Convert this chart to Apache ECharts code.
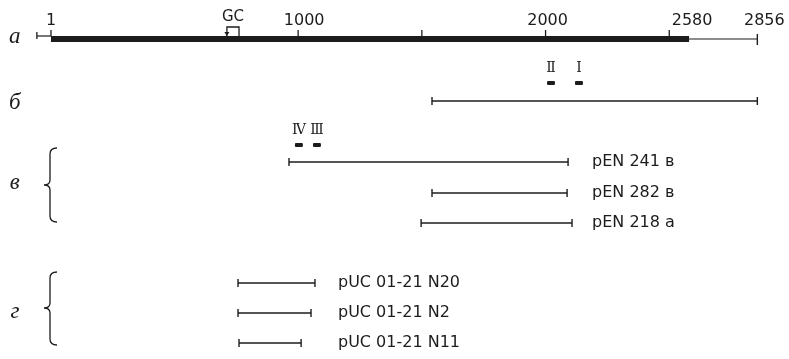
<!DOCTYPE html>
<html>
<head>
<meta charset="utf-8">
<script src="https://cdn.jsdelivr.net/npm/echarts@6/dist/echarts.min.js"></script>
<style>
html, body { margin: 0; background: #fff; }
#map { width: 789px; height: 359px; }
</style>
</head>
<body>
<div id="map"></div>
<script>
// genome map, positions in bp
var mapLeft = -56;
var mapFirst = 1;
var mapCodingEnd = 2580;
var mapEnd = 2856;
var mapTicks = [1, 1000, 1500, 2000, 2500];
var tickLabels = ['1', '1000', '2000', '2580', '2856'];
var tickLabelAt = [1, 1000, 2000, 2580, 2856];
var gcRegion = [712, 761];

// cloned fragments
var fragNames = ['', 'pEN 241 в', 'pEN 282 в', 'pEN 218 а', 'pUC 01-21 N20', 'pUC 01-21 N2', 'pUC 01-21 N11'];
var fragStart = [1541, 963, 1541, 1497, 757, 757, 761];
var fragEnd = [2856, 2091, 2087, 2107, 1068, 1052, 1012];

// short marked regions
var markNames = ['Ⅱ', 'Ⅰ', 'Ⅳ', 'Ⅲ'];
var markStart = [2006, 2119, 987, 1060];
var markEnd = [2038, 2151, 1019, 1092];

var rowNames = ['а', 'б', 'в', 'г'];

// layout (y in px rows, x in bp)
var mapY = 39;
var fragY = [101, 162, 193, 223, 283, 313, 343];
var fragLabelX = [null, 2188, 2188, 2188, 1161, 1161, 1161];
var markY = [83, 83, 145, 145];
var rowNameY = [37, 103, 183, 312];
var rowNameX = -145;
var braceX = -3;
var braces = [[148, 185, 222], [272, 308, 345]];
var tickLabelDx = [0, 6, 2, 3, 7];
var ink = '#1c1c1c';
var font = '16px "DejaVu Sans", sans-serif';

function vline(x, y1, y2, w) {
	return {type: 'line', shape: {x1: x, y1: y1, x2: x, y2: y2}, style: {stroke: ink, lineWidth: w || 1.3}};
}
function hline(x1, x2, y, w) {
	return {type: 'line', shape: {x1: x1, y1: y, x2: x2, y2: y}, style: {stroke: ink, lineWidth: w || 1.3}};
}

function renderMap(params, api) {
	var px = function(bp){ return api.coord([bp, mapY])[0]; };
	var y = api.coord([0, mapY])[1];
	var ch = [];
	ch.push(hline(px(mapLeft), px(mapFirst), y - 3, 1.2));
	ch.push(vline(px(mapLeft), y - 7, y, 1.3));
	ch.push({type: 'rect', shape: {x: px(mapFirst), y: y - 3, width: px(mapCodingEnd) - px(mapFirst), height: 6}, style: {fill: ink}});
	ch.push(hline(px(mapCodingEnd), px(mapEnd), y, 1.2));
	ch.push(vline(px(mapEnd), y - 5, y + 6, 1.4));
	for (var i = 0; i < mapTicks.length; i++) {
		ch.push(vline(px(mapTicks[i]), y - 9, y - 3, 1.3));
	}
	for (var j = 0; j < tickLabels.length; j++) {
		ch.push({type: 'text', style: {text: tickLabels[j], x: px(tickLabelAt[j]) + tickLabelDx[j], y: y - 18,
			font: font, fill: ink, textAlign: 'center', textVerticalAlign: 'middle'}});
	}
	var g1 = px(gcRegion[0]), g2 = px(gcRegion[1]);
	ch.push({type: 'polyline', shape: {points: [[g1, y - 3], [g1, y - 12], [g2, y - 12], [g2, y - 3]]}, style: {stroke: ink, lineWidth: 1.3, fill: null}});
	ch.push({type: 'polygon', shape: {points: [[g1 - 2.5, y - 7], [g1 + 2.5, y - 7], [g1, y - 3]]}, style: {fill: ink}});
	ch.push({type: 'text', style: {text: 'GC', x: (g1 + g2) / 2, y: y - 22, font: '15px "DejaVu Sans", sans-serif',
		fill: ink, textAlign: 'center', textVerticalAlign: 'middle'}});
	return {type: 'group', children: ch};
}

function renderFrag(params, api) {
	var a = api.coord([api.value(0), api.value(2)]);
	var b = api.coord([api.value(1), api.value(2)]);
	var i = params.dataIndex;
	var ch = [hline(a[0], b[0], a[1], 1.4), vline(a[0], a[1] - 4, a[1] + 4, 1.4), vline(b[0], a[1] - 4, a[1] + 4, 1.4)];
	if (fragNames[i]) {
		var l = api.coord([fragLabelX[i], api.value(2)]);
		ch.push({type: 'text', style: {text: fragNames[i], x: l[0], y: l[1], font: font, fill: ink,
			textAlign: 'left', textVerticalAlign: 'middle'}});
	}
	return {type: 'group', children: ch};
}

function renderMark(params, api) {
	var a = api.coord([api.value(0), api.value(2)]);
	var b = api.coord([api.value(1), api.value(2)]);
	return {type: 'group', children: [
		{type: 'rect', shape: {x: a[0], y: a[1] - 2, width: b[0] - a[0], height: 4, r: 1}, style: {fill: ink}},
		{type: 'text', style: {text: markNames[params.dataIndex], x: (a[0] + b[0]) / 2, y: a[1] - 15,
			font: '14px "DejaVu Serif", serif', fill: ink, textAlign: 'center', textVerticalAlign: 'middle'}}
	]};
}

function renderRowName(params, api) {
	var p = api.coord([api.value(0), api.value(1)]);
	return {type: 'text', style: {text: rowNames[params.dataIndex], x: p[0], y: p[1],
		font: 'italic 23px "Liberation Serif", "DejaVu Serif", serif', fill: ink, textAlign: 'center', textVerticalAlign: 'middle'}};
}

function renderBrace(params, api) {
	var t = api.coord([api.value(0), api.value(1)]);
	var m = api.coord([api.value(0), api.value(2)]);
	var b = api.coord([api.value(0), api.value(3)]);
	var x = t[0];
	var d = 'M' + (x + 7) + ' ' + t[1] + ' Q' + x + ' ' + t[1] + ' ' + x + ' ' + (t[1] + 6) +
		' L' + x + ' ' + (m[1] - 5) + ' Q' + x + ' ' + m[1] + ' ' + (x - 6) + ' ' + m[1] +
		' Q' + x + ' ' + m[1] + ' ' + x + ' ' + (m[1] + 5) +
		' L' + x + ' ' + (b[1] - 6) + ' Q' + x + ' ' + b[1] + ' ' + (x + 7) + ' ' + b[1];
	return {type: 'path', shape: {pathData: d}, style: {stroke: ink, lineWidth: 1.3, fill: null}};
}

var chart = echarts.init(document.getElementById('map'));
chart.setOption({
	backgroundColor: '#fff',
	animation: false,
	grid: {left: 26, right: 8.4, top: 0, bottom: 0},
	xAxis: {type: 'value', min: -100, max: 2950, show: false},
	yAxis: {type: 'value', min: 0, max: 359, inverse: true, show: false},
	series: [
		{type: 'custom', renderItem: renderMap, data: [[mapFirst, mapY]], clip: false, silent: true},
		{type: 'custom', renderItem: renderFrag, clip: false, silent: true,
			data: fragStart.map(function(s, i){ return [s, fragEnd[i], fragY[i]]; })},
		{type: 'custom', renderItem: renderMark, clip: false, silent: true,
			data: markStart.map(function(s, i){ return [s, markEnd[i], markY[i]]; })},
		{type: 'custom', renderItem: renderRowName, clip: false, silent: true,
			data: rowNameY.map(function(y){ return [rowNameX, y]; })},
		{type: 'custom', renderItem: renderBrace, clip: false, silent: true,
			data: braces.map(function(b){ return [braceX, b[0], b[1], b[2]]; })}
	]
});
</script>
</body>
</html>
